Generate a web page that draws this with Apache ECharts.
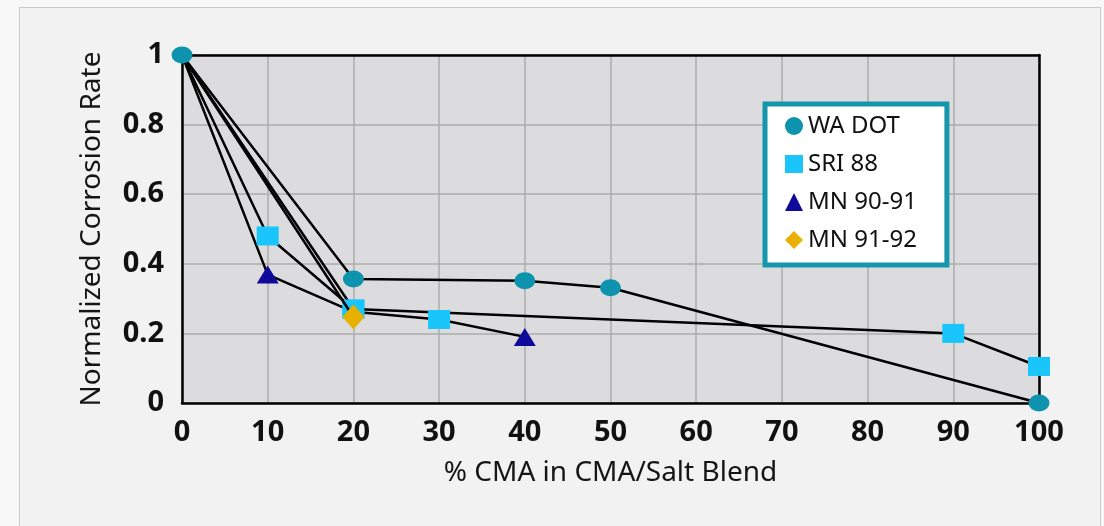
<!DOCTYPE html>
<html>
<head>
<meta charset="utf-8">
<script src="https://cdn.jsdelivr.net/npm/echarts@6/dist/echarts.min.js"></script>
<style>
  html, body { margin: 0; padding: 0; background: #f8f8f8; }
  #panel { position: absolute; left: 19px; top: 7px; width: 1080px; height: 540px; background: #f2f2f2; border: 1px solid #cbcbcb; }
  #chart { position: absolute; left: 0; top: 0; width: 1104px; height: 526px; }
</style>
</head>
<body>
<div id="panel"></div>
<div id="chart"></div>
<script>
// ---- data ----
const xTicks = [0, 10, 20, 30, 40, 50, 60, 70, 80, 90, 100];
const yTicks = [0, 0.2, 0.4, 0.6, 0.8, 1];

const waX = [0, 20, 40, 50, 100];
const waY = [1, 0.356, 0.351, 0.331, 0];

const sriX = [0, 10, 20, 90, 100];
const sriY = [1, 0.48, 0.27, 0.2, 0.105];

const sri2X = [0, 20];
const sri2Y = [1, 0.27];

const sri3X = [30];
const sri3Y = [0.24];

const mn1X = [0, 10, 20, 30, 40];
const mn1Y = [1, 0.369, 0.262, 0.24, 0.19];

const mn2X = [0, 20];
const mn2Y = [1, 0.247];

const legendNames = ['WA DOT', 'SRI 88', 'MN 90-91', 'MN 91-92'];

// ---- chart ----
const COL = { wa: '#0e93ae', sri: '#19c5fb', mn1: '#0f0a9a', mn2: '#e8b100' };
const FONT = 'Noto Sans';

function pts(xs, ys, sym, hideAt) {
  return xs.map((x, i) => ({
    value: [x, ys[i]],
    symbol: (hideAt || []).includes(x) ? 'none' : sym
  }));
}
function lineSeries(name, xs, ys, sym, size, color, hideAt, z, showLine) {
  return {
    name: name, type: 'line', z: z, clip: false,
    data: pts(xs, ys, sym, hideAt),
    symbol: sym, symbolSize: size, showAllSymbol: true,
    itemStyle: { color: color, opacity: 1 },
    lineStyle: { color: '#000', width: 2.5, opacity: showLine === false ? 0 : 1 },
    emphasis: { disabled: true },
    animation: false
  };
}
const frameAxis = (pos) => ({
  type: 'value', position: pos, min: 0, max: 1,
  axisLine: { show: true, onZero: false, lineStyle: { color: '#000', width: 2.5 } },
  axisTick: { show: false }, axisLabel: { show: false }, splitLine: { show: false }
});

const chart = echarts.init(document.getElementById('chart'), null, { renderer: 'canvas' });
chart.setOption({
  backgroundColor: 'transparent',
  animation: false,
  grid: { left: 182, right: 65, top: 55, bottom: 123, show: true, backgroundColor: '#dcdcde', borderWidth: 0 },
  xAxis: [{
    type: 'value', min: xTicks[0], max: xTicks[xTicks.length - 1], interval: xTicks[1] - xTicks[0],
    name: '% CMA in CMA/Salt Blend', nameLocation: 'middle', nameGap: 56,
    nameTextStyle: { fontFamily: FONT, fontSize: 28, color: '#151515' },
    axisLine: { show: true, onZero: false, lineStyle: { color: '#000', width: 2.5 } },
    axisTick: { show: false },
    axisLabel: { fontFamily: FONT, fontSize: 29, fontWeight: 'bold', color: '#111', margin: 15 },
    splitLine: { show: true, lineStyle: { color: '#adadad', width: 1.5 } }
  }, frameAxis('top')],
  yAxis: [{
    type: 'value', min: yTicks[0], max: yTicks[yTicks.length - 1], interval: yTicks[1] - yTicks[0],
    name: 'Normalized Corrosion Rate', nameLocation: 'middle', nameGap: 76,
    nameTextStyle: { fontFamily: FONT, fontSize: 28, color: '#151515' },
    axisLine: { show: true, onZero: false, lineStyle: { color: '#000', width: 2.5 } },
    axisTick: { show: false },
    axisLabel: { fontFamily: FONT, fontSize: 29, fontWeight: 'bold', color: '#111', margin: 18 },
    splitLine: { show: true, lineStyle: { color: '#adadad', width: 1.5 } }
  }, frameAxis('right')],
  legend: {
    orient: 'vertical', left: 765, top: 104,
    padding: [10, 30, 13, 20],
    itemGap: 14, itemWidth: 18, itemHeight: 18,
    backgroundColor: '#ffffff', borderColor: '#1596ad', borderWidth: 5,
    textStyle: { fontFamily: FONT, fontSize: 24, color: '#111' },
    selectedMode: false,
    data: [
      { name: legendNames[0], icon: 'circle' },
      { name: legendNames[1], icon: 'rect' },
      { name: legendNames[2], icon: 'triangle' },
      { name: legendNames[3], icon: 'diamond' }
    ]
  },
  series: [
    lineSeries(legendNames[2], mn1X, mn1Y, 'triangle', [22, 18], COL.mn1, [0, 20, 30], 2),
    lineSeries(legendNames[1], sri2X, sri2Y, 'rect', [22, 19], COL.sri, [0], 3),
    lineSeries(legendNames[1], sriX, sriY, 'rect', [22, 19], COL.sri, [0], 4),
    lineSeries(legendNames[1], sri3X, sri3Y, 'rect', [22, 19], COL.sri, [], 5, false),
    lineSeries(legendNames[3], mn2X, mn2Y, 'diamond', [22, 25], COL.mn2, [0], 6),
    lineSeries(legendNames[0], waX, waY, 'circle', [21, 17], COL.wa, [], 7)
  ]
});
</script>
</body>
</html>
